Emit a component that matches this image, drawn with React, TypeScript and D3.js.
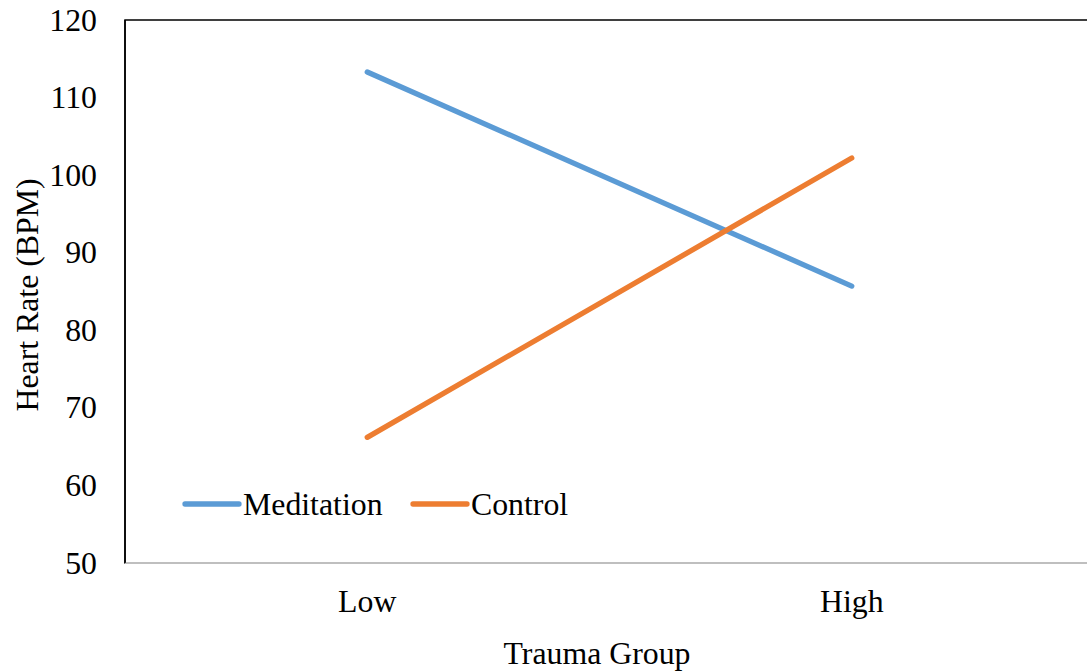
import React from "react";
import * as d3 from "d3";

const categories = ["Low", "High"];
const meditation = [113.3, 85.7];
const control = [66.2, 102.2];
const yTicks = [50, 60, 70, 80, 90, 100, 110, 120];
const seriesNames = ["Meditation", "Control"];
const seriesColors = ["#5B9BD5", "#ED7D31"];

const W = 1087;
const H = 672;
const plot = { left: 125, top: 20, right: 1094, bottom: 563 };
const FONT = "'Liberation Serif', 'Times New Roman', serif";
const FS = 31.8;

export default function App() {
  const x = d3.scaleBand<string>().domain(categories).range([plot.left, plot.right]).padding(0);
  const y = d3.scaleLinear().domain([50, 120]).range([plot.bottom, plot.top]);
  const cx = (c: string) => (x(c) as number) + x.bandwidth() / 2;
  const line = d3
    .line<number>()
    .x((_, i) => cx(categories[i]))
    .y((d) => y(d));
  const series = [meditation, control];
  const legendX = [185, 413];
  const legendY = 504;

  return (
    <svg
      width={W}
      height={H}
      style={{ position: "absolute", left: 0, top: 0, background: "#fff" }}
      fontFamily={FONT}
    >
      <rect x={0} y={0} width={W} height={H} fill="#fff" />
      <rect
        x={plot.left}
        y={plot.top}
        width={plot.right - plot.left}
        height={plot.bottom - plot.top}
        fill="none"
        stroke="#000"
        strokeWidth={1.5}
      />
      <line x1={plot.left} x2={plot.right} y1={plot.bottom} y2={plot.bottom} stroke="#BFBFBF" strokeWidth={1.8} />
      <line x1={plot.left} x2={plot.left} y1={plot.top} y2={plot.bottom} stroke="#000" strokeWidth={1.5} />
      {yTicks.map((t) => (
        <text key={t} x={97} y={y(t)} textAnchor="end" dominantBaseline="central" fontSize={FS} fill="#000">
          {t}
        </text>
      ))}
      {categories.map((c) => (
        <text key={c} x={cx(c)} y={612} textAnchor="middle" fontSize={FS} fill="#000">
          {c}
        </text>
      ))}
      {series.map((s, i) => (
        <path
          key={i}
          d={line(s) as string}
          fill="none"
          stroke={seriesColors[i]}
          strokeWidth={5.3}
          strokeLinecap="round"
        />
      ))}
      {seriesNames.map((n, i) => (
        <g key={n}>
          <line
            x1={legendX[i]}
            x2={legendX[i] + 54}
            y1={legendY}
            y2={legendY}
            stroke={seriesColors[i]}
            strokeWidth={5.3}
            strokeLinecap="round"
          />
          <text x={legendX[i] + 58} y={legendY + 11} fontSize={FS} fill="#000">
            {n}
          </text>
        </g>
      ))}
      <text x={597} y={664} textAnchor="middle" fontSize={FS} fill="#000">
        Trauma Group
      </text>
      <text
        transform={`translate(38, 295) rotate(-90)`}
        textAnchor="middle"
        fontSize={FS}
        fill="#000"
      >
        Heart Rate (BPM)
      </text>
    </svg>
  );
}
